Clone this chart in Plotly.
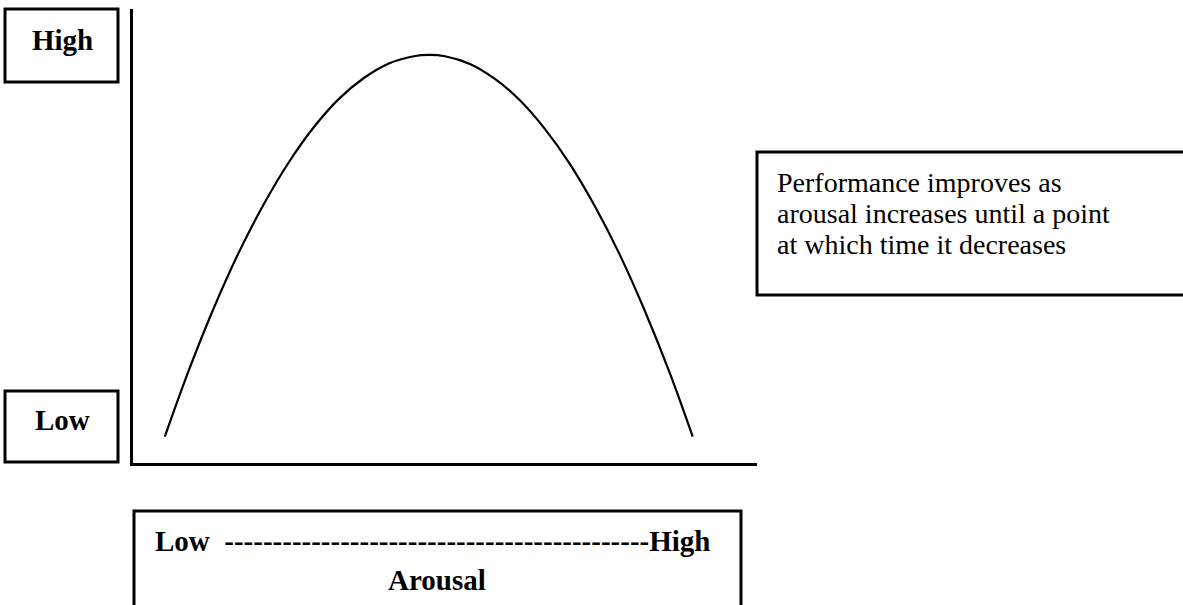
import plotly.graph_objects as go

# ---- data ----
arousal = [0.51, 0.9, 1.3, 1.7, 2.1, 2.5, 2.9, 3.3, 3.7, 4.1, 4.5, 4.74,
           5.0, 5.4, 5.8, 6.2, 6.6, 7.0, 7.4, 7.8, 8.2, 8.6, 8.97]
performance = [0.58, 2.06, 3.43, 4.65, 5.71, 6.63, 7.40, 8.02, 8.48, 8.80, 8.96, 8.99,
               8.96, 8.79, 8.46, 7.99, 7.36, 6.59, 5.66, 4.59, 3.36, 1.99, 0.58]
perf_labels = ["High", "Low"]
arousal_label = "Low  --------------------------------------------High"
arousal_title = "Arousal"
note_lines = ["Performance improves as",
              "arousal increases until a point",
              "at which time it decreases"]

W, H = 1183, 605


def px(x):
    return x / W


def py(y):
    return 1 - y / H


fig = go.Figure()
fig.add_trace(go.Scatter(x=arousal, y=performance, mode="lines",
                         line=dict(color="black", width=2.2, shape="spline"),
                         hoverinfo="skip", showlegend=False))

fig.update_layout(
    width=W, height=H,
    margin=dict(l=0, r=0, t=0, b=0),
    paper_bgcolor="white", plot_bgcolor="white",
    xaxis=dict(domain=[px(133), px(757)], range=[0, 10], showline=True,
               linecolor="black", linewidth=3, showgrid=False, zeroline=False,
               showticklabels=False, ticks=""),
    yaxis=dict(domain=[py(463), py(9)], range=[0, 10], showline=True,
               linecolor="black", linewidth=3, showgrid=False, zeroline=False,
               showticklabels=False, ticks=""),
)

box_line = dict(color="black", width=3)
shapes = [
    dict(type="rect", xref="paper", yref="paper", x0=px(5), x1=px(118), y0=py(82), y1=py(9), line=box_line),
    dict(type="rect", xref="paper", yref="paper", x0=px(5), x1=px(118), y0=py(462), y1=py(391), line=box_line),
    dict(type="rect", xref="paper", yref="paper", x0=px(134), x1=px(741), y0=py(620), y1=py(511), line=box_line),
    dict(type="rect", xref="paper", yref="paper", x0=px(757), x1=px(1195), y0=py(295), y1=py(152), line=box_line),
]
fig.update_layout(shapes=shapes)

bold = dict(family="Liberation Serif, Times New Roman, serif", size=29, color="black")
reg = dict(family="Liberation Serif, Times New Roman, serif", size=28, color="black")
ann = []
ann.append(dict(x=px(62), y=py(40), text="<b>%s</b>" % perf_labels[0]))
ann.append(dict(x=px(62), y=py(420), text="<b>%s</b>" % perf_labels[1]))
for a in ann:
    a.update(xref="paper", yref="paper", xanchor="center", yanchor="middle",
             showarrow=False, font=bold)
ann.append(dict(x=px(153), y=py(541), text="<b>%s</b>" % arousal_label, xref="paper", yref="paper",
                xanchor="left", yanchor="middle", showarrow=False, font=bold))
ann.append(dict(x=px(437), y=py(580), text="<b>%s</b>" % arousal_title, xref="paper", yref="paper",
                xanchor="center", yanchor="middle", showarrow=False, font=bold))
for i, line in enumerate(note_lines):
    ann.append(dict(x=px(775), y=py(182 + 31 * i), text=line, xref="paper", yref="paper",
                    xanchor="left", yanchor="middle", showarrow=False, font=reg))
fig.update_layout(annotations=ann)

fig.write_html("out.html", config={"displayModeBar": False},
               post_script="document.body.style.margin='0';document.body.style.padding='0';")
